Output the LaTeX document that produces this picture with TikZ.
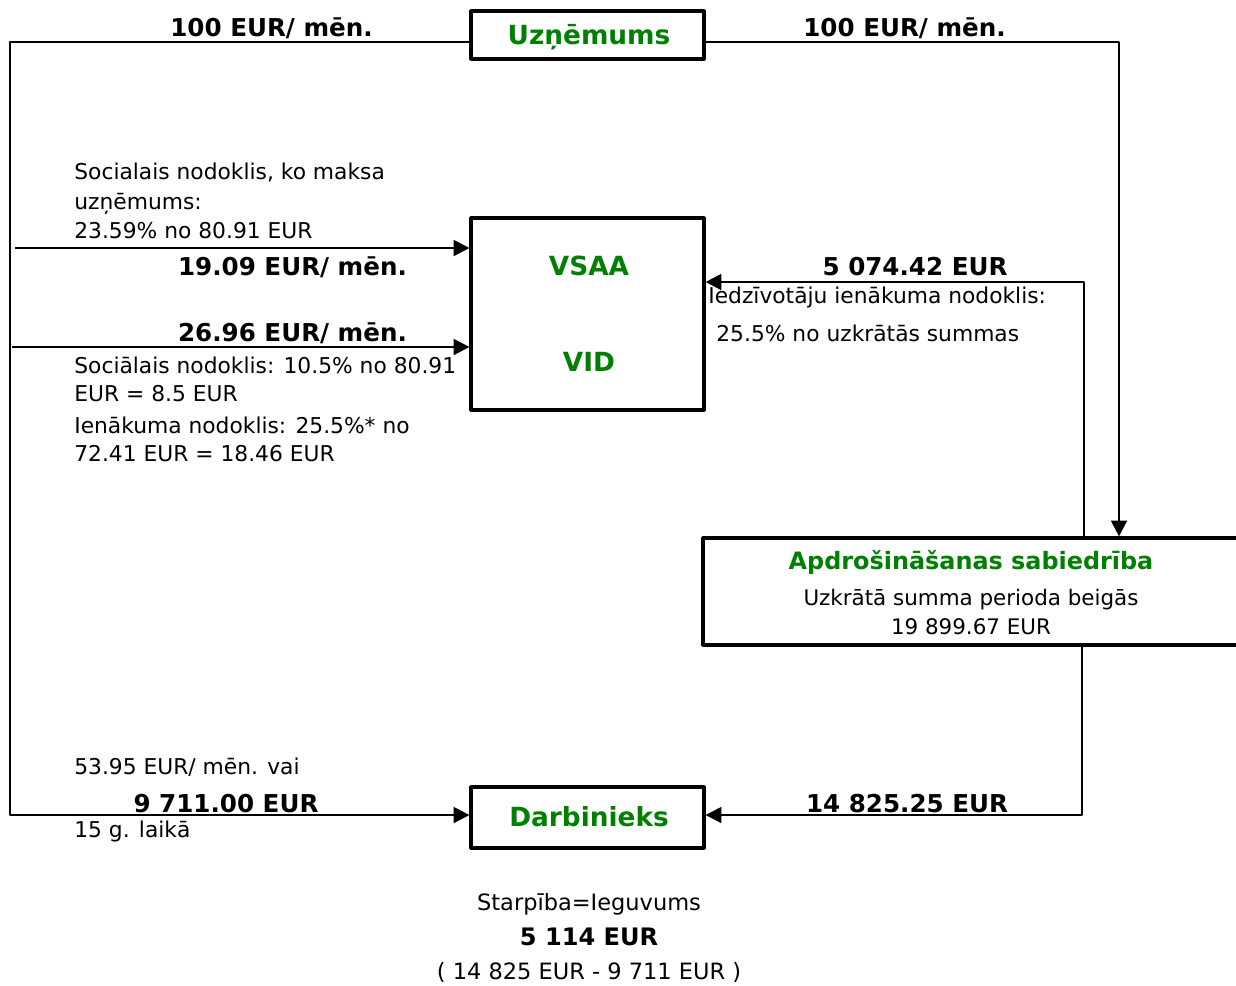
\documentclass[tikz,border=0pt]{standalone}
\usepackage{fontspec}
\setmainfont{DejaVu Sans}
\usetikzlibrary{arrows.meta}
\definecolor{firmgreen}{RGB}{0,128,0}
\begin{document}
\begin{tikzpicture}[x=0.02cm,y=-0.02cm,line join=round,>={Triangle[length=9pt,width=9pt]},
	box/.style={draw,line width=1.8pt,inner sep=0pt},
	title/.style={text=firmgreen,font=\fontsize{15}{17}\selectfont\bfseries},
	amount/.style={font=\fontsize{14}{16}\selectfont\bfseries},
	note/.style={font=\fontsize{12.4}{16}\selectfont,align=left,inner sep=0pt},
	flow/.style={line width=1.3pt}]
	\useasboundingbox (0,0) rectangle (1236,985);
	% boxes
	\node[box,minimum width=4.66cm,minimum height=0.96cm] (uzn) at (587.5,35) {};
	\node[title] (uzntxt) at (589,37) {Uzņēmums};
	\node[box,minimum width=4.66cm,minimum height=3.84cm] (vsaa) at (587.5,314) {};
	\node[title] (vsaatxt) at (589,266) {VSAA};
	\node[title] (vidtxt) at (589,362) {VID};
	\node[box,minimum width=10.7cm,minimum height=2.14cm] (apdr) at (970.5,591.5) {};
	\node[title,font=\fontsize{13.6}{16}\selectfont\bfseries] (apdrtxt) at (971,562) {Apdrošināšanas sabiedrība};
	\node[note,align=center,font=\fontsize{12.2}{17}\selectfont] (summa) at (971,612) {Uzkrātā summa perioda beigās\\19 899.67 EUR};
	\node[box,minimum width=4.66cm,minimum height=1.22cm] (darb) at (587.5,817.5) {};
	\node[title] (darbtxt) at (589,817) {Darbinieks};
	% free ends of the lines
	\coordinate (lt) at (10,42);
	\coordinate (rt) at (1119,42);
	\coordinate (soc) at (15,248);
	\coordinate (nod) at (12,347);
	\coordinate (iin) at (1084,282);
	\coordinate (izm) at (1082,815);
	% lines
	\draw[flow,->] (uzn.west |- lt) -- (lt) |- (darb.west |- izm);
	\draw[flow,->] (uzn.east |- rt) -- (rt) -- (rt |- apdr.north);
	\draw[flow,->] (soc) -- (vsaa.west |- soc);
	\draw[flow,->] (nod) -- (vsaa.west |- nod);
	\draw[flow,->] (apdr.north -| iin) -- (iin) -- (vsaa.east |- iin);
	\draw[flow,->] (apdr.south -| izm) -- (izm) -- (darb.east |- izm);
	% amounts
	\node[amount] (a1) at (271.5,28) {100 EUR/ mēn.};
	\node[amount] (a2) at (904.5,28) {100 EUR/ mēn.};
	\node[amount] (a3) at (292.5,267) {19.09 EUR/ mēn.};
	\node[amount] (a4) at (292.5,333) {26.96 EUR/ mēn.};
	\node[amount] (a5) at (915,267) {5 074.42 EUR};
	\node[amount] (a6) at (226,804) {9 711.00 EUR};
	\node[amount] (a7) at (907,804) {14 825.25 EUR};
	% notes
	\node[note,anchor=west,font=\fontsize{12.4}{16.7}\selectfont] (n1) at (74,201) {Socialais nodoklis, ko maksa\\uzņēmums:\\23.59\% no 80.91 EUR};
	\node[note,anchor=west] (n2) at (74,379) {Sociālais nodoklis: 10.5\% no 80.91\\EUR = 8.5 EUR};
	\node[note,anchor=west] (n3) at (74,439) {Ienākuma nodoklis: 25.5\%* no\\72.41 EUR = 18.46 EUR};
	\node[note,anchor=west] (n4) at (708,297) {Iedzīvotāju ienākuma nodoklis:};
	\node[note,anchor=west] (n5) at (716,333) {25.5\% no uzkrātās summas};
	\node[note,anchor=west] (n6) at (74,767) {53.95 EUR/ mēn. vai};
	\node[note,anchor=west] (n7) at (74,831) {15 g. laikā};
	% result
	\node[note,align=center,font=\fontsize{12.8}{19.8}\selectfont] (res) at (589,938) {Starpība=Ieguvums\\{\fontsize{13.7}{19.8}\selectfont\bfseries 5 114 EUR}\\( 14 825 EUR - 9 711 EUR )};
\end{tikzpicture}
\end{document}
